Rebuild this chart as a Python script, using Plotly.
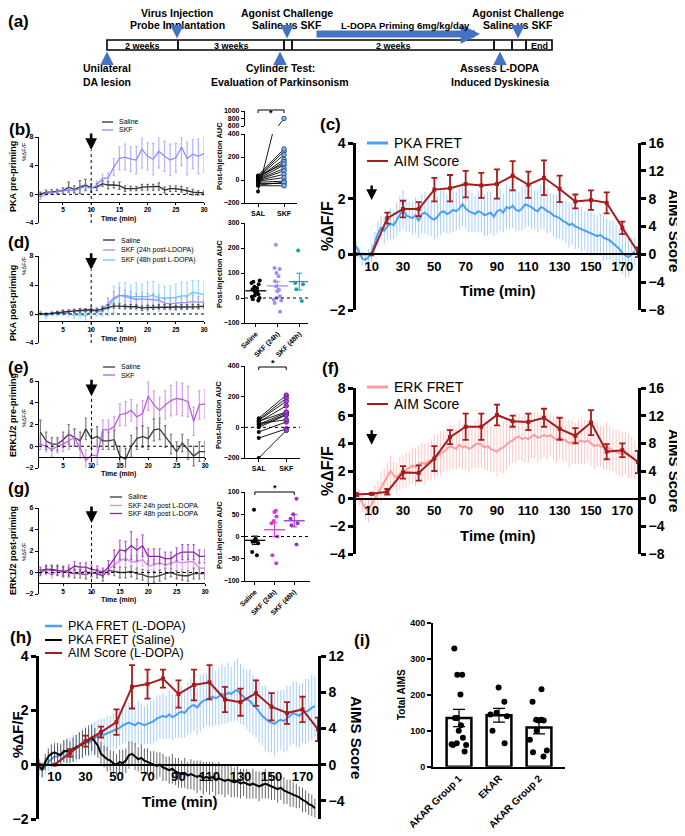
import numpy as np
import plotly.graph_objects as go

# ---------------- data ----------------
MIN = list(range(1, 31))          # minutes, small time panels
T_DENSE = list(range(0, 180, 2))  # minutes, long recordings
T_AIM = list(range(0, 181, 10))   # AIM rating times

# (b) PKA pre-priming
B_SAL = [0.0, 0.3, 0.35, 0.4, 0.5, 1.0, 0.7, 1.0, 1.3, 0.9, 1.0, 1.5, 1.3, 1.3, 1.2,
         0.8, 0.8, 0.8, 1.0, 1.0, 1.0, 1.1, 0.6, 0.8, 0.8, 0.7, 0.5, 0.3, 0.2, 0.2]
B_SAL_ERR = [0.3, 0.3, 0.3, 0.3, 0.4, 0.7, 0.5, 0.9, 0.8, 0.6, 0.5, 0.4, 0.5, 0.4, 0.5,
             0.4, 0.3, 0.3, 0.4, 0.4, 0.4, 0.5, 0.4, 0.4, 0.4, 0.4, 0.4, 0.4, 0.3, 0.3]
B_SKF = [-0.4, 0.1, 0.2, 0.3, 0.4, 0.6, 0.5, 0.8, 1.1, 0.8, 1.3, 2.2, 2.3, 3.8, 5.0,
         5.2, 4.9, 4.8, 6.3, 5.3, 4.9, 6.0, 5.3, 4.8, 5.1, 6.6, 5.0, 5.6, 5.3, 5.7]
B_SKF_ERR = [0.3, 0.2, 0.2, 0.2, 0.3, 0.3, 0.3, 0.4, 0.4, 0.4, 0.5, 0.6, 0.7, 1.2, 1.6,
             1.8, 1.7, 1.9, 2.6, 1.9, 2.2, 2.3, 2.1, 2.2, 2.0, 2.6, 2.3, 2.0, 2.4, 2.6]
B_AUC_SAL = [30, 25, 20, 15, 10, 5, 0, -5, -10, -20, -30, -45, -50, -100, 40, 35]
B_AUC_SKF = [250, 220, 180, 160, 130, 100, 80, 50, 20, -10, -30, -20, -50, 800, 270, 140]

# (d) PKA post-priming
D_SAL = [0.0, 0.0, 0.1, 0.2, 0.3, 0.35, 0.4, 0.5, 0.55, 0.6, 0.5, 0.7, 1.0, 1.1, 1.1,
         1.0, 1.0, 1.0, 0.8, 0.9, 0.9, 1.0, 1.0, 1.0, 0.9, 1.0, 1.0, 1.0, 1.0, 1.1]
D_SAL_ERR = [0.1, 0.1, 0.1, 0.15, 0.2, 0.2, 0.2, 0.25, 0.2, 0.2, 0.2, 0.25, 0.3, 0.3, 0.3,
             0.3, 0.3, 0.25, 0.3, 0.3, 0.3, 0.3, 0.3, 0.3, 0.3, 0.3, 0.3, 0.3, 0.3, 0.3]
D_SKF24 = [0.1, 0.0, 0.1, 0.2, 0.3, 0.3, 0.4, 0.4, 0.4, 0.4, 0.5, 0.7, 1.5, 2.2, 2.6,
           2.4, 2.2, 2.0, 2.1, 2.0, 2.0, 1.9, 1.5, 1.4, 1.5, 1.5, 1.6, 1.7, 1.6, 1.7]
D_SKF24_ERR = [0.2, 0.2, 0.2, 0.2, 0.3, 0.3, 0.3, 0.3, 0.3, 0.3, 0.3, 0.4, 0.7, 0.9, 1.0,
               0.9, 0.9, 0.8, 0.9, 0.8, 0.8, 0.8, 0.7, 0.7, 0.7, 0.8, 0.8, 0.9, 0.8, 0.8]
D_SKF48 = [0.2, -0.3, 0.1, 0.0, 0.1, 0.1, -0.2, -0.1, -0.3, 0.5, 0.3, 0.4, 1.0, 2.0, 2.5,
           2.6, 2.4, 2.4, 2.3, 2.4, 2.6, 2.2, 2.2, 2.2, 2.3, 2.5, 2.5, 3.0, 2.9, 2.7]
D_SKF48_ERR = [0.2, 0.3, 0.3, 0.3, 0.3, 0.4, 0.4, 0.4, 0.5, 0.6, 0.6, 0.7, 1.2, 1.8, 1.8,
               1.7, 1.6, 1.9, 1.8, 2.0, 1.9, 1.8, 1.6, 1.7, 1.8, 1.9, 1.9, 1.6, 1.7, 1.8]
D_AUC_GROUPS = ["Saline", "SKF (24h)", "SKF (48h)"]
D_AUC_SAL = [70, 65, 60, 55, 45, 40, 35, 30, 25, 20, 15, 10, 5, 0, -5, -10]
D_AUC_SKF24 = [213, 120, 116, 100, 87, 67, 47, 33, 27, 7, 0, -7, -10, -20, -55]
D_AUC_SKF48 = [190, 60, 55, 35, -12]

# (e) ERK1/2 pre-priming
E_SAL = [1.3, 0.5, 0.2, 0.2, 0.6, 1.1, 0.8, 0.5, 1.6, 0.7, 0.9, 0.5, 0.5, 0.6, -0.9,
         -1.2, 0.0, 0.7, 0.9, 0.7, 1.5, 1.6, 0.9, 0.2, -0.5, 0.3, -0.3, -0.9, -0.5, -0.5]
E_SAL_ERR = [1.1, 0.8, 0.6, 0.6, 0.7, 0.9, 0.8, 0.8, 1.0, 0.9, 0.9, 0.8, 0.8, 0.9, 0.9,
             1.0, 1.0, 1.0, 1.0, 1.0, 1.0, 1.0, 1.0, 0.9, 0.9, 0.8, 0.9, 0.9, 0.9, 0.9]
E_SKF = [0.2, 0.0, -0.3, 0.0, 0.2, 0.5, 0.8, -0.2, -1.3, -0.8, -0.9, 1.5, 1.5, 1.8, 2.9,
         3.0, 3.3, 2.7, 3.0, 4.6, 3.8, 3.3, 3.8, 4.2, 4.4, 4.3, 4.1, 2.3, 3.8, 3.9]
E_SKF_ERR = [0.5, 0.5, 0.6, 0.6, 0.7, 0.8, 0.8, 0.9, 1.0, 0.8, 0.8, 0.9, 0.9, 0.9, 1.0,
             1.1, 1.0, 1.1, 1.2, 1.3, 1.3, 1.2, 1.3, 1.4, 1.5, 1.5, 1.4, 1.3, 1.3, 1.3]
E_AUC_SAL = [60, 50, 45, 35, 20, 10, 0, -30, -70, -200, 40, 25]
E_AUC_SKF = [210, 190, 170, 140, 95, 85, 80, 35, -10, -20, 100, 50]

# (g) ERK1/2 post-priming
G_SAL = [0.2, 0.3, 0.3, 0.2, 0.1, 0.0, -0.1, -0.1, -0.2, 0.0, -0.1, -0.3, 0.2, 0.1, 0.0,
         0.0, 0.1, -0.1, -0.2, -0.4, -0.4, -0.3, -0.1, 0.0, -0.2, -0.3, -0.3, -0.1, -0.1, -0.1]
G_SAL_ERR = [0.3, 0.3, 0.4, 0.4, 0.4, 0.4, 0.4, 0.4, 0.4, 0.4, 0.4, 0.5, 0.4, 0.4, 0.5,
             0.5, 0.5, 0.5, 0.5, 0.6, 0.5, 0.5, 0.5, 0.4, 0.4, 0.4, 0.5, 0.5, 0.5, 0.5]
G_SKF24 = [0.2, 0.1, -0.2, 0.1, 0.0, 0.1, 0.0, 0.0, 0.1, 0.0, 0.0, -0.2, 0.3, 0.7, 1.1,
           1.3, 1.0, 1.0, 1.2, 0.6, 0.7, 0.9, 0.7, 0.9, 1.0, 0.9, 1.0, 1.0, 0.4, 0.4]
G_SKF24_ERR = [0.3, 0.3, 0.3, 0.3, 0.3, 0.3, 0.3, 0.3, 0.3, 0.3, 0.3, 0.3, 0.4, 0.5, 0.6,
               0.6, 0.6, 0.6, 0.6, 0.5, 0.5, 0.6, 0.5, 0.5, 0.6, 0.6, 0.6, 0.6, 0.5, 0.5]
G_SKF48 = [0.0, 0.3, 0.2, 0.2, 0.1, 0.2, 0.6, 0.5, 0.5, 0.3, 0.2, 0.0, 0.5, 1.3, 2.1,
           2.0, 2.5, 2.1, 2.5, 1.5, 1.5, 1.5, 1.3, 1.3, 1.7, 1.9, 1.9, 1.9, 1.5, 1.5]
G_SKF48_ERR = [0.3, 0.4, 0.4, 0.5, 0.5, 0.5, 0.4, 0.4, 0.4, 0.4, 0.4, 0.4, 0.6, 0.8, 0.9,
               0.9, 1.3, 1.0, 1.0, 0.7, 0.7, 0.7, 0.6, 0.6, 0.6, 0.7, 0.7, 0.7, 0.6, 0.6]
G_AUC_SAL = [60, -5, -8, -10, -10, -12, -15, -35, -42]
G_AUC_SKF24 = [58, 55, 45, 35, 30, 0, -42, -60]
G_AUC_SKF48 = [85, 50, 40, 30, 25, -18]

# (c) PKA FRET during L-DOPA + AIMs
C_PKA = [0.30, 0.05, -0.15, -0.20, -0.10, 0.05, 0.40, 0.75, 0.95, 0.85,
         1.00, 1.10, 1.05, 1.25, 1.45, 1.60, 1.40, 1.35, 1.30, 1.40,
         1.20, 1.45, 1.50, 1.40, 1.30, 1.25, 1.35, 1.50, 1.55, 1.45,
         1.50, 1.60, 1.55, 1.65, 1.80, 1.65, 1.55, 1.50, 1.45, 1.55,
         1.50, 1.40, 1.45, 1.50, 1.35, 1.55, 1.60, 1.50, 1.70, 1.65,
         1.75, 1.60, 1.55, 1.65, 1.80, 1.75, 1.70, 1.60, 1.55, 1.70,
         1.65, 1.55, 1.50, 1.40, 1.35, 1.30, 1.20, 1.15, 1.05, 1.10,
         1.00, 0.95, 0.90, 0.85, 0.80, 0.75, 0.70, 0.65, 0.70, 0.60,
         0.55, 0.50, 0.40, 0.30, 0.20, 0.05, -0.05, -0.10, 0.00, 0.10]
C_PKA_ERR = [0.15, 0.20, 0.25, 0.25, 0.30, 0.35, 0.40, 0.45, 0.45, 0.50,
             0.50, 0.55, 0.50, 0.60, 0.65, 0.70, 0.60, 0.55, 0.60, 0.65,
             0.60, 0.70, 0.75, 0.70, 0.65, 0.70, 0.75, 0.80, 0.75, 0.70,
             0.75, 0.80, 0.70, 0.75, 0.80, 0.70, 0.75, 0.70, 0.65, 0.75,
             0.70, 0.75, 0.80, 0.75, 0.70, 0.80, 0.75, 0.70, 0.80, 0.75,
             0.80, 0.75, 0.70, 0.80, 0.85, 0.75, 0.80, 0.70, 0.75, 0.80,
             0.75, 0.80, 0.70, 0.75, 0.80, 0.75, 0.70, 0.75, 0.80, 0.75,
             0.80, 0.75, 0.80, 0.70, 0.75, 0.80, 0.75, 0.70, 0.75, 0.80,
             0.75, 0.70, 0.80, 0.75, 0.70, 0.75, 0.80, 0.70, 0.60, 0.50]
C_AIM = [0, 0, 5.2, 6.5, 6.5, 9.3, 9.5, 10.1, 9.9, 10.1, 11.3, 10.0, 11.0, 9.4, 7.6, 7.8, 7.4, 3.8, 0.3]
C_AIM_ERR = [0, 0, 0.8, 1.2, 1.0, 1.7, 1.9, 1.9, 1.8, 2.1, 2.1, 1.9, 2.5, 1.9, 1.0, 1.4, 1.5, 0.9, 0.7]

# (f) ERK FRET during L-DOPA + AIMs
F_ERK = [0.30, 0.10, -0.30, -0.70, -0.80, -0.40, 0.00, 0.30, 0.80, 1.10,
         1.60, 2.00, 1.70, 1.50, 1.80, 2.00, 2.10, 2.20, 2.40, 2.30,
         2.50, 2.60, 2.50, 2.70, 2.80, 3.00, 3.10, 3.30, 3.40, 3.60,
         3.80, 3.70, 3.60, 3.90, 3.70, 3.80, 3.60, 3.70, 3.90, 4.00,
         3.90, 3.70, 3.80, 3.60, 3.50, 3.40, 3.60, 3.70, 3.90, 4.10,
         4.20, 4.40, 4.50, 4.30, 4.40, 4.30, 4.50, 4.60, 4.40, 4.50,
         4.60, 4.50, 4.60, 4.40, 4.30, 4.40, 4.30, 4.20, 4.00, 4.10,
         4.00, 4.10, 4.20, 4.10, 4.20, 4.00, 3.80, 3.90, 3.80, 3.70,
         3.80, 3.60, 3.50, 3.40, 3.30, 3.20, 3.30, 3.10, 3.00, 2.80]
F_ERK_ERR = [0.5, 0.6, 0.7, 0.8, 0.9, 0.9, 1.0, 1.0, 1.1, 1.1,
             1.0, 1.1, 1.0, 1.1, 1.2, 1.2, 1.3, 1.2, 1.3, 1.4,
             1.3, 1.4, 1.5, 1.4, 1.5, 1.6, 1.5, 1.6, 1.5, 1.6,
             1.7, 1.6, 1.5, 1.7, 1.6, 1.8, 1.7, 1.6, 1.7, 1.8,
             1.7, 1.6, 1.8, 1.7, 1.6, 1.8, 1.7, 1.9, 1.8, 1.7,
             1.6, 1.8, 1.7, 1.6, 1.8, 1.7, 1.6, 1.7, 1.8, 1.7,
             1.6, 1.7, 1.5, 1.6, 1.7, 1.5, 1.6, 1.5, 1.7, 1.6,
             1.5, 1.6, 1.7, 1.6, 1.5, 1.6, 1.7, 1.6, 1.5, 1.6,
             1.7, 1.6, 1.5, 1.6, 1.7, 1.6, 1.5, 1.6, 1.5, 1.4]
F_AIM = [0.6, 0.7, 1.0, 3.8, 3.7, 5.8, 8.9, 10.4, 10.4, 12.1, 11.2, 11.1, 11.7, 10.1, 9.1, 11.0, 6.8, 7.0, 5.3]
F_AIM_ERR = [0.2, 0.1, 0.4, 0.9, 1.1, 1.8, 1.0, 1.9, 1.9, 1.5, 0.8, 1.2, 1.3, 1.6, 1.1, 1.8, 1.1, 1.0, 1.6]

# (h) PKA FRET L-DOPA vs saline + AIMs
H_PKA = [-0.10, -0.20, -0.05, 0.10, 0.20, 0.30, 0.30, 0.40, 0.45, 0.50,
         0.55, 0.60, 0.60, 0.70, 0.80, 0.85, 0.80, 0.90, 1.00, 1.05,
         1.10, 1.10, 1.15, 1.20, 1.25, 1.30, 1.35, 1.45, 1.50, 1.55,
         1.50, 1.45, 1.55, 1.50, 1.45, 1.50, 1.55, 1.60, 1.70, 1.75,
         1.80, 1.75, 1.85, 1.75, 1.80, 1.90, 1.95, 1.90, 2.05, 2.15,
         2.20, 2.10, 2.25, 2.35, 2.40, 2.45, 2.50, 2.45, 2.50, 2.60,
         2.55, 2.65, 2.60, 2.70, 2.75, 2.60, 2.50, 2.40, 2.35, 2.20,
         2.10, 1.95, 1.80, 1.70, 1.60, 1.55, 1.50, 1.60, 1.65, 1.60,
         1.70, 1.80, 1.90, 1.85, 1.80, 1.90, 1.95, 2.00, 2.10, 2.15]
H_PKA_ERR = [0.30, 0.30, 0.30, 0.35, 0.35, 0.40, 0.40, 0.40, 0.45, 0.45,
             0.45, 0.50, 0.50, 0.50, 0.55, 0.55, 0.50, 0.55, 0.60, 0.60,
             0.60, 0.60, 0.65, 0.60, 0.65, 0.70, 0.65, 0.70, 0.70, 0.75,
             0.70, 0.75, 0.80, 0.75, 0.70, 0.75, 0.80, 0.80, 0.85, 0.80,
             0.85, 0.80, 0.90, 0.85, 0.80, 0.90, 0.95, 0.90, 0.95, 1.00,
             0.95, 1.00, 1.05, 1.00, 0.95, 1.05, 1.10, 1.00, 1.05, 1.10,
             1.05, 1.10, 1.00, 1.10, 1.15, 1.10, 1.05, 1.10, 1.15, 1.10,
             1.10, 1.15, 1.10, 1.20, 1.15, 1.10, 1.20, 1.15, 1.10, 1.15,
             1.20, 1.10, 1.15, 1.20, 1.15, 1.10, 1.20, 1.15, 1.20, 1.10]
H_SAL = [0.00, -0.20, 0.10, 0.30, 0.40, 0.45, 0.40, 0.35, 0.50, 0.50,
         0.45, 0.55, 0.65, 0.70, 0.75, 0.85, 0.90, 1.00, 0.85, 0.70,
         0.40, 0.30, 0.20, 0.15, 0.05, 0.00, 0.10, 0.05, 0.15, 0.35,
         0.40, 0.30, 0.20, 0.25, 0.15, 0.10, 0.05, 0.00, -0.05, 0.00,
         -0.10, -0.15, -0.20, -0.15, -0.25, -0.30, -0.35, -0.30, -0.40, -0.35,
         -0.40, -0.45, -0.40, -0.50, -0.45, -0.50, -0.45, -0.55, -0.50, -0.55,
         -0.60, -0.55, -0.60, -0.65, -0.60, -0.70, -0.65, -0.70, -0.75, -0.70,
         -0.75, -0.80, -0.75, -0.70, -0.75, -0.80, -0.85, -0.90, -0.85, -0.95,
         -1.00, -1.05, -1.10, -1.15, -1.20, -1.30, -1.35, -1.45, -1.50, -1.60]
H_SAL_ERR = [0.20, 0.25, 0.30, 0.30, 0.35, 0.35, 0.40, 0.40, 0.40, 0.45,
             0.40, 0.45, 0.45, 0.50, 0.50, 0.50, 0.55, 0.50, 0.50, 0.45,
             0.45, 0.40, 0.45, 0.40, 0.45, 0.40, 0.45, 0.50, 0.45, 0.50,
             0.45, 0.50, 0.45, 0.50, 0.45, 0.50, 0.45, 0.50, 0.50, 0.45,
             0.50, 0.45, 0.50, 0.55, 0.50, 0.55, 0.50, 0.55, 0.50, 0.55,
             0.55, 0.60, 0.55, 0.60, 0.55, 0.60, 0.55, 0.60, 0.60, 0.55,
             0.60, 0.55, 0.60, 0.55, 0.60, 0.55, 0.50, 0.55, 0.50, 0.55,
             0.50, 0.55, 0.50, 0.55, 0.50, 0.50, 0.45, 0.50, 0.45, 0.50,
             0.45, 0.50, 0.45, 0.45, 0.40, 0.45, 0.40, 0.40, 0.40, 0.35]
H_AIM = [0, 0, 1.3, 2.6, 3.6, 4.7, 8.6, 8.9, 9.5, 7.8, 8.8, 9.1, 7.2, 6.9, 7.9, 6.4, 5.7, 6.1, 3.9]
H_AIM_ERR = [0, 0, 0.4, 0.6, 0.6, 1.4, 2.4, 1.6, 1.0, 1.5, 1.7, 1.9, 1.4, 1.5, 1.4, 1.5, 1.2, 1.4, 1.3]

# (i) total AIMS
I_GROUPS = ["AKAR Group 1", "EKAR", "AKAR Group 2"]
I_AKAR1 = [328, 255, 255, 200, 135, 135, 115, 100, 80, 65, 62, 60, 60, 42]
I_EKAR = [220, 180, 150, 145, 140, 100, 65]
I_AKAR2 = [215, 180, 130, 130, 128, 128, 100, 75, 45, 40, 28]

# (a) timeline schematic
TL_EDGES = [107, 178, 284, 292, 494, 512, 526, 552]
TL_SEGMENTS = ["2 weeks", "3 weeks", "", "2 weeks", "", "", "End"]
TL_ABOVE = [(177, "Virus Injection", "Probe Implantation"),
            (287, "Agonist Challenge", "Saline vs SKF"),
            (518, "Agonist Challenge", "Saline vs SKF")]
TL_BELOW = [(107, "Unilateral", "DA lesion"),
            (280, "Cylinder Test:", "Evaluation of Parkinsonism"),
            (500, "Assess L-DOPA", "Induced Dyskinesia")]
TL_PRIMING = (315, 480, "L-DOPA Priming 6mg/kg/day")

# ---------------- layout helpers ----------------
# all positions below are page pixels of the 685x836 window; the plot div
# sits 8 px in from the top-left corner of the page
OFF = 8
W, H = 685 - OFF, 836 - OFF
FONT = "Liberation Sans, Arial, sans-serif"
TL_BLUE = "#4472C4"
RED = "#A51C1C"
BLUE = "#4A9FF5"
BLUE_ERR = "rgba(90,165,245,0.55)"


def fx(p):
    return (p - OFF) / W


def fy(p):
    return 1 - (p - OFF) / H


def xdom(left, right):
    return [fx(left), fx(right)]


def ydom(top, bottom):
    return [fy(bottom), fy(top)]


def at(v, dom, rng):
    return dom[0] + (v - rng[0]) / (rng[1] - rng[0]) * (dom[1] - dom[0])


def fnt(size, bold=True, family=FONT, color="black"):
    d = dict(family=family, size=size, color=color)
    if bold:
        d["weight"] = "bold"
    return d


fig = go.Figure()
layout = {}
shapes = []
annots = []


def axis(**kw):
    d = dict(showgrid=False, zeroline=False, showline=True, linecolor="black",
             ticks="outside", tickcolor="black", fixedrange=True)
    d.update(kw)
    return d


def text(x, y, s, size, bold=True, angle=0, xanchor="center"):
    annots.append(dict(xref="paper", yref="paper", x=fx(x), y=fy(y), text=s,
                       showarrow=False, textangle=angle, xanchor=xanchor,
                       yanchor="middle", font=fnt(size, bold)))


def key(x0, x1, y, s, color, size, width=1.5):
    shapes.append(dict(type="line", xref="paper", yref="paper", x0=fx(x0), x1=fx(x1),
                       y0=fy(y), y1=fy(y), line=dict(color=color, width=width)))
    text(x1 + 4, y, s, size, bold=False, xanchor="left")


def bracket(xref, y, x0=0, x1=1):
    shapes.append(dict(type="path", xref=xref, yref="paper",
                       path=f"M {x0},{fy(y + 3)} L {x0},{fy(y)} L {x1},{fy(y)} L {x1},{fy(y + 3)}",
                       line=dict(color="black", width=1)))
    annots.append(dict(xref=xref, yref="paper", x=(x0 + x1) / 2, y=fy(y - 4), text="*",
                       showarrow=False, font=fnt(9)))


def time_panel(n, box, yr, yt, series, arrow_at):
    left, right, top, bottom = box
    xd, yd = xdom(left, right), ydom(top, bottom)
    xr = [0.75, 30]
    small = fnt(7)
    layout[f"xaxis{n}"] = axis(domain=xd, range=xr, anchor="free", position=at(-1, yd, yr),
                               tickvals=[5, 10, 15, 20, 25, 30], ticklen=2, linewidth=1.2,
                               tickwidth=1, tickfont=fnt(6.5))
    layout[f"yaxis{n}"] = axis(domain=yd, range=yr, anchor=f"x{n}", tickvals=yt, ticklen=3,
                               linewidth=1.2, tickwidth=1, tickfont=small)
    shapes.append(dict(type="line", xref=f"x{n}", yref=f"y{n}", x0=xr[0], x1=xr[1], y0=0, y1=0,
                       line=dict(color="black", width=1, dash="dot")))
    shapes.append(dict(type="line", xref=f"x{n}", yref=f"y{n}", x0=10, x1=10, y0=yr[0], y1=arrow_at,
                       line=dict(color="black", width=1, dash="dot")))
    annots.append(dict(xref=f"x{n}", yref=f"y{n}", x=10, y=arrow_at, ax=0, ay=-18, text="",
                       showarrow=True, arrowhead=2, arrowsize=0.9, arrowwidth=2.6,
                       arrowcolor="black"))
    for vals, err, col, ecol in series:
        fig.add_trace(go.Scatter(
            x=MIN, y=vals, xaxis=f"x{n}", yaxis=f"y{n}", mode="lines",
            line=dict(color=col, width=1.3),
            error_y=dict(type="data", array=err, color=ecol, thickness=1.2, width=1.2),
            hoverinfo="skip", showlegend=False))


def paired_panel(n, box, ranges, sal, skf, skf_color, skf_fill, ticks_lo, ticks_hi=None,
                 zero_line=False, hi_box=None):
    left, right, top, bottom = box
    xd = xdom(left, right)
    xr = [-0.5, 1.5]
    small = fnt(7)
    layout[f"xaxis{n}"] = axis(domain=xd, range=xr, anchor=f"y{n}", tickvals=[0, 1],
                               ticktext=["SAL", "SKF"], ticklen=3, linewidth=1.2,
                               tickfont=small)
    yaxes = [(f"y{n}", f"yaxis{n}", ydom(top, bottom), ranges[0], ticks_lo)]
    if hi_box is not None:
        yaxes.append((f"y{n + 1}", f"yaxis{n + 1}", ydom(*hi_box), ranges[1], ticks_hi))
    lx, ly = [], []
    for a, b in zip(sal, skf):
        lx += [0, 1, None]
        ly += [a, b, None]
    for yref, yname, yd, yr, yt in yaxes:
        layout[yname] = axis(domain=yd, range=yr, anchor=f"x{n}", tickvals=yt, ticklen=3,
                             linewidth=1.2, tickwidth=1, tickfont=small)
        fig.add_trace(go.Scatter(x=lx, y=ly, xaxis=f"x{n}", yaxis=yref, mode="lines",
                                 line=dict(color="black", width=0.9), hoverinfo="skip",
                                 showlegend=False))
        fig.add_trace(go.Scatter(x=[0] * len(sal), y=sal, xaxis=f"x{n}", yaxis=yref,
                                 mode="markers", marker=dict(color="black", size=4),
                                 hoverinfo="skip", showlegend=False))
        fig.add_trace(go.Scatter(x=[1] * len(skf), y=skf, xaxis=f"x{n}", yaxis=yref,
                                 mode="markers",
                                 marker=dict(color=skf_fill, size=4.5,
                                             line=dict(color=skf_color, width=1)),
                                 hoverinfo="skip", showlegend=False))
    if zero_line:
        shapes.append(dict(type="line", xref=f"x{n}", yref=f"y{n}", x0=xr[0], x1=xr[1],
                           y0=0, y1=0, line=dict(color="black", width=1, dash="dot")))


def group_panel(n, box, xr, yr, yt, groups, labels):
    left, right, top, bottom = box
    small = fnt(7)
    layout[f"xaxis{n}"] = axis(domain=xdom(left, right), range=xr, anchor=f"y{n}",
                               tickvals=list(range(len(labels))), ticktext=labels,
                               tickangle=-45, ticklen=3, linewidth=1.2, tickfont=small)
    layout[f"yaxis{n}"] = axis(domain=ydom(top, bottom), range=yr, anchor=f"x{n}", tickvals=yt,
                               ticklen=3, linewidth=1.2, tickwidth=1, tickfont=small)
    shapes.append(dict(type="line", xref=f"x{n}", yref=f"y{n}", x0=xr[0], x1=xr[1], y0=0, y1=0,
                       line=dict(color="black", width=1, dash="dot")))
    for i, (vals, col) in enumerate(groups):
        v = np.asarray(vals, dtype=float)
        fig.add_trace(go.Box(
            x=[i] * len(v), y=v, xaxis=f"x{n}", yaxis=f"y{n}", boxpoints="all", jitter=0.8,
            pointpos=0, width=0.55, fillcolor="rgba(0,0,0,0)",
            line=dict(width=0, color="rgba(0,0,0,0)"),
            marker=dict(color=col, size=4), hoverinfo="skip", showlegend=False))
        fig.add_trace(go.Scatter(
            x=[i], y=[v.mean()], xaxis=f"x{n}", yaxis=f"y{n}", mode="markers",
            marker=dict(symbol="line-ew", size=15, line=dict(color=col, width=1.3)),
            error_y=dict(type="data", array=[v.std(ddof=1) / np.sqrt(len(v))], color=col,
                         thickness=1, width=3),
            hoverinfo="skip", showlegend=False))


def long_panel(n, box, yr, yt, yr2, yt2, xt, traces, aim, aim_err, arrow_at=None):
    left, right, top, bottom = box
    xd, yd = xdom(left, right), ydom(top, bottom)
    big = fnt(14)
    layout[f"xaxis{n}"] = axis(domain=xd, range=[0, 180], anchor="free", position=at(0, yd, yr),
                               tickvals=xt, ticks="", linewidth=2, tickfont=fnt(13))
    layout[f"yaxis{n}"] = axis(domain=yd, range=yr, anchor=f"x{n}", tickvals=yt, ticklen=5,
                               linewidth=2.5, tickwidth=2.5, tickfont=big)
    layout[f"yaxis{n + 1}"] = axis(domain=yd, range=yr2, anchor=f"x{n}", overlaying=f"y{n}",
                                   side="right", tickvals=yt2, ticklen=5, linewidth=2.5,
                                   tickwidth=2.5, tickfont=big)
    for vals, err, col, ecol in traces:
        fig.add_trace(go.Scatter(
            x=T_DENSE, y=vals, xaxis=f"x{n}", yaxis=f"y{n}", mode="lines",
            line=dict(color=col, width=2),
            error_y=dict(type="data", array=err, color=ecol, thickness=1, width=0),
            hoverinfo="skip", showlegend=False))
    fig.add_trace(go.Scatter(
        x=T_AIM, y=aim, xaxis=f"x{n}", yaxis=f"y{n + 1}", mode="lines+markers",
        line=dict(color=RED, width=2), marker=dict(color=RED, size=4, symbol="square"),
        error_y=dict(type="data", array=aim_err, color=RED, thickness=1.8, width=3),
        hoverinfo="skip", showlegend=False))
    if arrow_at is not None:
        annots.append(dict(xref=f"x{n}", yref=f"y{n}", x=10, y=arrow_at, ax=0, ay=-16, text="",
                           showarrow=True, arrowhead=2, arrowsize=0.9, arrowwidth=2.4,
                           arrowcolor="black"))


# ---------------- (a) timeline ----------------
layout["xaxis"] = dict(domain=[0, 1], range=[OFF, 685], visible=False, fixedrange=True)
layout["yaxis"] = dict(domain=[fy(95), 1], range=[95, OFF], visible=False, fixedrange=True)
shapes.append(dict(type="rect", xref="x", yref="y", x0=TL_EDGES[0], x1=TL_EDGES[-1], y0=40, y1=50,
                   line=dict(color="black", width=1.6)))
for e in TL_EDGES[1:-1]:
    shapes.append(dict(type="line", xref="x", yref="y", x0=e, x1=e, y0=40, y1=50,
                       line=dict(color="black", width=1.8)))
for a, b, s in zip(TL_EDGES[:-1], TL_EDGES[1:], TL_SEGMENTS):
    if s:
        annots.append(dict(xref="x", yref="y", x=(a + b) / 2, y=45.5, text=s, showarrow=False,
                           font=fnt(9)))
for x, s1, s2 in TL_ABOVE:
    for s, y in ((s1, 13), (s2, 25)):
        annots.append(dict(xref="x", yref="y", x=x, y=y, text=s, showarrow=False,
                           font=fnt(10.5)))
    annots.append(dict(xref="x", yref="y", x=x, y=38.5, ax=0, ay=-8, text="", showarrow=True,
                       arrowhead=2, arrowsize=0.9, arrowwidth=3, arrowcolor=TL_BLUE))
for x, s1, s2 in TL_BELOW:
    for s, y in ((s1, 68), (s2, 82)):
        annots.append(dict(xref="x", yref="y", x=x, y=y, text=s, showarrow=False,
                           font=fnt(10.5)))
    annots.append(dict(xref="x", yref="y", x=x, y=51.5, ax=0, ay=10, text="", showarrow=True,
                       arrowhead=2, arrowsize=0.9, arrowwidth=3, arrowcolor=TL_BLUE))
p0, p1, ps = TL_PRIMING
annots.append(dict(xref="x", yref="y", x=p1, y=34, ax=p0, ay=34, axref="x", ayref="y", text="",
                   showarrow=True, arrowhead=2, arrowsize=0.55, arrowwidth=7, arrowcolor=TL_BLUE))
annots.append(dict(xref="x", yref="y", x=(p0 + p1) / 2 + 8, y=25, text=ps, showarrow=False,
                   font=fnt(9.5)))
text(19, 22, "(a)", 17)

# ---------------- small panels ----------------
SAL_LINE, SAL_ERR = "#2b2b2b", "rgba(60,60,60,0.75)"
time_panel(2, (39, 204, 137, 223), [-4, 8], [-4, 0, 4, 8],
           [(B_SAL, B_SAL_ERR, SAL_LINE, SAL_ERR),
            (B_SKF, B_SKF_ERR, "#8C8CFF", "rgba(140,140,255,0.65)")], 6.2)
time_panel(5, (39, 204, 256, 343), [-4, 8], [-4, 0, 4, 8],
           [(D_SKF48, D_SKF48_ERR, "#5CC8FF", "rgba(92,200,255,0.6)"),
            (D_SKF24, D_SKF24_ERR, "#9D8CFF", "rgba(157,140,255,0.6)"),
            (D_SAL, D_SAL_ERR, SAL_LINE, SAL_ERR)], 6.1)
time_panel(7, (39, 205, 381, 468), [-2, 6], [-2, 0, 2, 4, 6],
           [(E_SAL, E_SAL_ERR, "#3a3a3a", "rgba(70,70,70,0.7)"),
            (E_SKF, E_SKF_ERR, "#B85FDA", "rgba(184,95,218,0.6)")], 4.6)
time_panel(9, (39, 205, 508, 594), [-2, 6], [-2, 0, 2, 4, 6],
           [(G_SAL, G_SAL_ERR, "#3a3a3a", "rgba(70,70,70,0.7)"),
            (G_SKF24, G_SKF24_ERR, "#D58BEA", "rgba(213,139,234,0.7)"),
            (G_SKF48, G_SKF48_ERR, "#8E24AA", "rgba(142,36,170,0.7)")], 4.6)

paired_panel(3, (245, 297, 134, 203), [[-200, 400], [600, 1000]], B_AUC_SAL, B_AUC_SKF,
             "#2a4f9c", "#8fb4ea", [-200, 0, 200, 400], [600, 800, 1000], hi_box=(111, 126))
paired_panel(8, (245, 300, 366, 458), [[-200, 400]], E_AUC_SAL, E_AUC_SKF,
             "#6a1b9a", "#a63fd0", [-200, 0, 200, 400], zero_line=True)
group_panel(6, (245, 308, 223, 323), [-0.5, 2.4], [-100, 300], [-100, 0, 100, 200, 300],
            [(D_AUC_SAL, "black"), (D_AUC_SKF24, "#9F8FF5"), (D_AUC_SKF48, "#17A2A5")],
            D_AUC_GROUPS)
group_panel(10, (245, 310, 492, 581), [-0.5, 2.8], [-100, 100], [-100, -50, 0, 50, 100],
            [(G_AUC_SAL, "black"), (G_AUC_SKF24, "#D63AD6"), (G_AUC_SKF48, "#9933CC")],
            D_AUC_GROUPS)
bracket("x3", 110)
bracket("x8", 367)
bracket("x10", 492, 0, 2)

# ---------------- large panels ----------------
XT = list(range(10, 171, 20))
long_panel(11, (356, 638, 143, 310), [-2, 4], [-2, 0, 2, 4], [-8, 16], list(range(-8, 17, 4)), XT,
           [(C_PKA, C_PKA_ERR, BLUE, BLUE_ERR)], C_AIM, C_AIM_ERR, arrow_at=1.95)
long_panel(13, (356, 638, 388, 554), [-4, 8], [-4, -2, 0, 2, 4, 6, 8], [-8, 16],
           list(range(-8, 17, 4)), XT,
           [(F_ERK, F_ERK_ERR, "#FF9C9C", "rgba(255,140,140,0.5)")], F_AIM, F_AIM_ERR,
           arrow_at=3.9)
long_panel(15, (39, 318, 656, 819), [-2, 4], [-2, 0, 2, 4], [-6, 12], [-4, 0, 4, 8, 12], XT,
           [(H_PKA, H_PKA_ERR, BLUE, BLUE_ERR),
            (H_SAL, H_SAL_ERR, "black", "rgba(40,40,40,0.7)")], H_AIM, H_AIM_ERR)

# ---------------- (i) bars ----------------
groups_i = [np.asarray(g, dtype=float) for g in (I_AKAR1, I_EKAR, I_AKAR2)]
layout["xaxis17"] = axis(domain=xdom(433, 565), range=[-0.65, 2.65], anchor="y17",
                         tickvals=[0, 1, 2], ticktext=I_GROUPS, tickangle=-45, ticks="",
                         linewidth=2, tickfont=fnt(10))
layout["yaxis17"] = axis(domain=ydom(622.5, 766.7), range=[0, 400], anchor="x17",
                         tickvals=[0, 100, 200, 300, 400], ticklen=4, linewidth=2, tickwidth=2,
                         tickfont=fnt(9))
fig.add_trace(go.Bar(
    x=[0, 1, 2], y=[g.mean() for g in groups_i], xaxis="x17", yaxis="y17", width=0.62,
    marker=dict(color="white", line=dict(color="black", width=2.5)),
    error_y=dict(type="data", array=[g.std(ddof=1) / np.sqrt(len(g)) for g in groups_i],
                 color="black", thickness=1.2, width=6),
    hoverinfo="skip", showlegend=False))
for i, g in enumerate(groups_i):
    fig.add_trace(go.Box(
        x=[i] * len(g), y=g, xaxis="x17", yaxis="y17", boxpoints="all", jitter=0.9, pointpos=0,
        width=0.6, fillcolor="rgba(0,0,0,0)", line=dict(width=0, color="rgba(0,0,0,0)"),
        marker=dict(color="black", size=6), hoverinfo="skip", showlegend=False))

# ---------------- labels, titles, keys ----------------
for s, x, y in [("(b)", 20, 130), ("(c)", 330, 125), ("(d)", 19, 243), ("(e)", 19, 368),
                ("(f)", 330, 369), ("(g)", 19, 488), ("(h)", 21, 637), ("(i)", 362, 640)]:
    text(x, y, s, 17)

for s, y, ys in [("PKA pre-priming", 177, 152), ("PKA post-priming", 303, 266),
                 ("ERK1/2 pre-priming", 415, 418), ("ERK1/2 post-priming", 551, 552)]:
    text(13, y, s, 9, angle=-90)
    text(24, ys, "%ΔF/F", 6, bold=False, angle=-90)
for y in (156, 274, 415, 535):
    text(219, y, "Post-Injection AUC", 7.5, angle=-90)
for y in (219, 339, 474, 600):
    text(118, y, "Time (min)", 7)

text(327, 226, "%ΔF/F", 16, angle=-90)
text(327, 471, "%ΔF/F", 16, angle=-90)
text(17, 735, "%ΔF/F", 15, angle=-90)
text(675, 230, "AIMS Score", 15, angle=90)
text(675, 470, "AIMS Score", 15, angle=90)
text(357, 737, "AIMS Score", 15, angle=90)
text(498, 291, "Time (min)", 15)
text(498, 535, "Time (min)", 15)
text(180, 801, "Time (min)", 15)
text(401, 695, "Total AIMS", 10, angle=-90)

key(102, 113, 122, "Saline", SAL_LINE, 7, 1.3)
key(102, 113, 130, "SKF", "#8C8CFF", 7, 1.3)
key(103, 115, 240, "Saline", SAL_LINE, 7, 1.3)
key(103, 115, 250, "SKF (24h post-LDOPA)", "#9D8CFF", 7, 1.3)
key(103, 115, 260, "SKF (48h post L-DOPA)", "#5CC8FF", 7, 1.3)
key(103, 115, 367, "Saline", "#3a3a3a", 7, 1.3)
key(103, 115, 375, "SKF", "#B85FDA", 7, 1.3)
key(110, 122, 497, "Saline", "#3a3a3a", 7, 1.3)
key(110, 122, 505.5, "SKF 24h post L-DOPA", "#D58BEA", 7, 1.3)
key(110, 122, 513.5, "SKF 48h post L-DOPA", "#8E24AA", 7, 1.3)
key(367, 388, 143, "PKA FRET", BLUE, 14, 3)
key(367, 388, 161, "AIM Score", RED, 14, 2)
key(367, 388, 387, "ERK FRET", "#FF9C9C", 14, 3)
key(367, 388, 404, "AIM Score", RED, 14, 2)
key(45, 62, 626, "PKA FRET (L-DOPA)", BLUE, 12.5, 2.5)
key(45, 62, 640, "PKA FRET (Saline)", "black", 12.5, 2)
key(45, 62, 653, "AIM Score (L-DOPA)", RED, 12.5, 2)

fig.update_layout(
    width=W, height=H, margin=dict(l=0, r=0, t=0, b=0, autoexpand=False),
    paper_bgcolor="white", plot_bgcolor="white", showlegend=False,
    font=dict(family=FONT, color="black"),
    shapes=shapes, annotations=annots, **layout)

fig.write_html("out.html")
